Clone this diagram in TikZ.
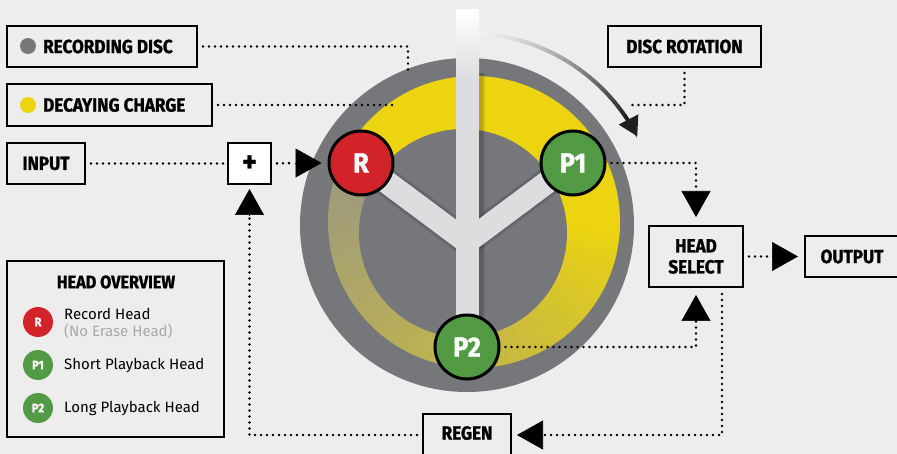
\documentclass[tikz,border=0pt]{standalone}
\usepackage{fontspec}
\setmainfont{Fira Sans}[FakeStretch=0.9, BoldFeatures={FakeBold=1.2}]
\newfontfamily\legfont{Fira Sans}
\usetikzlibrary{arrows.meta,calc}
\definecolor{bgc}{HTML}{EDEDED}
\definecolor{discc}{HTML}{76777B}
\definecolor{yel}{HTML}{ECD40F}
\definecolor{olive}{HTML}{9A9882}
\definecolor{armc}{HTML}{DCDDDF}
\definecolor{redh}{HTML}{D2232A}
\definecolor{greenh}{HTML}{529A43}
\definecolor{ltgrey}{HTML}{A8A8A8}
\begin{document}
\begin{tikzpicture}[x=1pt,y=-1pt,
 box/.style={draw=black, line width=2pt, fill=bgc, inner sep=0pt},
 lbl/.style={font=\fontsize{19}{19}\selectfont\bfseries, inner sep=0pt},
 dotline/.style={line width=2.8pt, line cap=round, dash pattern=on 0pt off 6pt, shorten <=5pt},
 headarrow/.style={-{Triangle[length=26pt,width=29pt]}, line width=0.6pt},
 head/.style={circle, draw=black, line width=3pt, minimum size=64pt, inner sep=0pt, text=white, font=\fontsize{28}{28}\selectfont\bfseries},
 lhead/.style={circle, minimum size=30pt, inner sep=0pt, text=white, font=\fontsize{12.5}{12.5}\selectfont\bfseries},
 ltext/.style={anchor=west, inner sep=0pt, font=\legfont\fontsize{15}{15}\selectfont}]
\useasboundingbox (0,0) rectangle (897,454);
\clip (0,0) rectangle (897,454);
\fill[bgc] (0,0) rectangle (897,454);

% disc
\fill[discc] (467,225) circle (167);
\coordinate (rc) at (474,222);
\begin{scope}
  \clip (rc) circle (146);
  \foreach \d in {0,3,...,357}{
    \pgfmathsetmacro\t{100*(max(0.001,(\d-155)/205))^0.8}
    \pgfmathsetmacro\aa{\d-152}
    \fill[olive!\t!yel] (rc) -- ($(rc)+(\aa:170)$) -- ($(rc)+(\aa+3.3:170)$) -- cycle;
  }
\end{scope}
\fill[discc] (463,233) circle (104);

\coordinate (cR) at (361,163);
\coordinate (cP1) at (573,163);
\coordinate (cP2) at (467,347);
\coordinate (J) at (467,242);
% soft shadows
\begin{scope}[shift={(3,3)}]
  \draw[black, opacity=0.10, line width=29pt] (cR) -- (J) -- (cP1);
  \draw[black, opacity=0.12, line width=25pt] (cR) -- (J) -- (cP1);
  \fill[black, opacity=0.10] (453,70) rectangle (482,347);
  \fill[black, opacity=0.12] (455,70) rectangle (480,347);
\end{scope}
\draw[armc, line width=23pt] (cR) -- (J) -- (cP1);
\fill[armc] (456,80) rectangle (479,347);
\shade[top color=white, bottom color=armc] (456,10) rectangle (479,80.5);

% rotation arrow
\foreach \i in {0,...,29}{
  \pgfmathsetmacro\pc{6+82*(\i/29)^1.4}
  \pgfmathsetmacro\aa{-86.4+\i*1.78}
  \draw[black!\pc!white, line width=4pt] ($(467,225)+(\aa:192)$) arc[start angle=\aa, end angle=\aa+1.9, radius=192];
}
\draw[black!88!white, line width=4pt, -{Triangle[length=19pt,width=21pt]}] ($(467,225)+(-33.0:192)$) arc[start angle=-33.0, end angle=-27.5, radius=192];

% heads
\node[head, fill=redh] (R) at (cR) {R};
\node[head, fill=greenh] (P1) at (cP1) {P1};
\node[head, fill=greenh] (P2) at (cP2) {P2};

% boxes
\node[box, minimum width=190pt, minimum height=41pt] (rec) at (102,46.5) {};
\fill[discc] (28,46) circle (8);
\node[lbl, anchor=west] at (43,46.5) {RECORDING DISC};
\node[box, minimum width=205pt, minimum height=42pt] (dec) at (109.5,105) {};
\fill[yel] (28,105) circle (8);
\node[lbl, anchor=west] at (43,105) {DECAYING CHARGE};
\node[box, minimum width=78pt, minimum height=41pt, font=\fontsize{19}{19}\selectfont\bfseries] (input) at (46,163.5) {INPUT};
\node[box, fill=white, minimum width=43pt, minimum height=41pt, font=\fontsize{30}{30}\selectfont\bfseries] (plus) at (249.5,163.5) {+};
\node[box, minimum width=153pt, minimum height=41pt, font=\fontsize{19}{19}\selectfont\bfseries] (rot) at (684.5,46.5) {DISC ROTATION};
\node[box, minimum width=94pt, minimum height=61pt, align=center, font=\fontsize{19}{21}\selectfont\bfseries] (hs) at (696,256.5) {HEAD\\SELECT};
\node[box, minimum width=94pt, minimum height=41pt, font=\fontsize{19}{19}\selectfont\bfseries] (out) at (852,256.5) {OUTPUT};
\node[box, minimum width=88pt, minimum height=42pt] (regen) at (467,435) {};
\node[lbl] at (467,433) {REGEN};

% legend
\node[box, minimum width=217pt, minimum height=176pt] (leg) at (115.5,349) {};
\node[lbl, font=\fontsize{18}{18}\selectfont\bfseries] at (116,282) {HEAD OVERVIEW};
\node[lhead, fill=redh] (lR) at (38,322) {R};
\node[lhead, fill=greenh] (lP1) at (38,365) {P1};
\node[lhead, fill=greenh] (lP2) at (38,408) {P2};
\node[ltext] at (64,314) {Record Head};
\node[ltext, text=ltgrey] at (64,331) {(No Erase Head)};
\node[ltext] at (64,365) {Short Playback Head};
\node[ltext] at (64,408) {Long Playback Head};

% connectors
\coordinate (recend) at (408,72);
\coordinate (decend) at (395,105);
\coordinate (rotend) at (628,105);
\draw[dotline] (rec.east) -| (recend);
\draw[dotline] (dec.east) -- (decend);
\draw[dotline] (rot.south) |- (rotend);
\draw[dotline] (input.east) -- (plus.west);
\draw[dotline] (plus.east) -- ([xshift=-33pt]R.west);
\draw[headarrow, shorten >=6pt] ([xshift=-33pt]R.west) -- (R.west);
\draw[dotline] (P1.east) -| ([yshift=34pt]hs.north);
\draw[headarrow, shorten >=8pt] ([yshift=34pt]hs.north) -- (hs.north);
\draw[dotline] (P2.east) -| ([yshift=-33pt]hs.south);
\draw[headarrow, shorten >=7pt] ([yshift=-33pt]hs.south) -- (hs.south);
\draw[dotline] (hs.east) -- ([xshift=-32pt]out.west);
\draw[headarrow, shorten >=6pt] ([xshift=-32pt]out.west) -- (out.west);
\coordinate (hsr) at ([xshift=26pt,yshift=-6pt]hs.south);
\draw[dotline, shorten <=0pt] (hsr) |- ([xshift=30pt]regen.east);
\draw[headarrow, shorten >=5pt] ([xshift=30pt]regen.east) -- (regen.east);
\draw[dotline] (regen.west) -| ([yshift=-30pt]plus.south);
\draw[headarrow, shorten >=4pt] ([yshift=-30pt]plus.south) -- (plus.south);
\end{tikzpicture}
\end{document}
